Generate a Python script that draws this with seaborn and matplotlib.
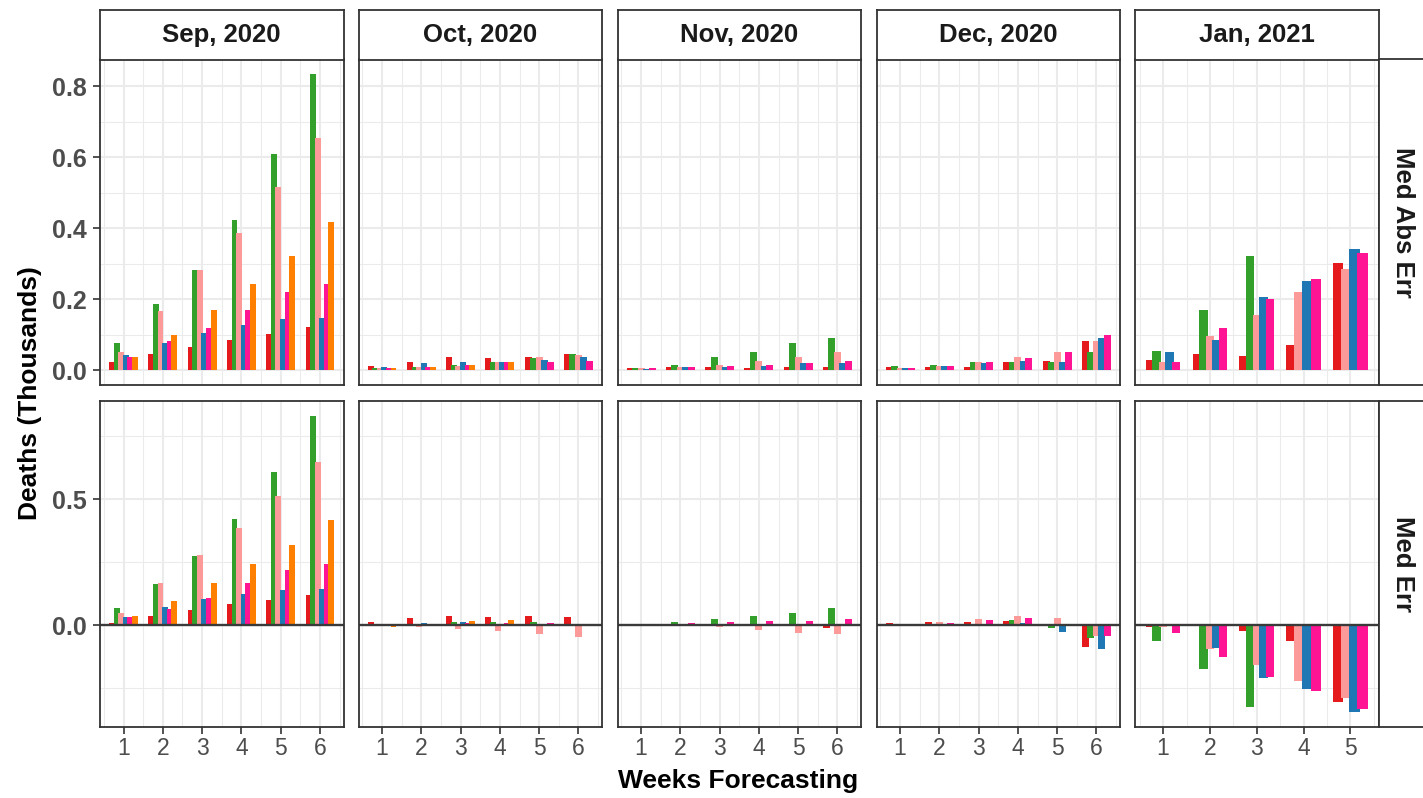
import numpy as np
import pandas as pd
import seaborn as sns
import seaborn.objects as so
import matplotlib.pyplot as plt
from matplotlib.ticker import FixedLocator

months = ["Sep, 2020", "Oct, 2020", "Nov, 2020", "Dec, 2020", "Jan, 2021"]
metrics = ["Med Abs Err", "Med Err"]
models = ["Model 1", "Model 2", "Model 3", "Model 4", "Model 5", "Model 6"]
colors = ["#E41A1C", "#33A02C", "#FB9A99", "#1F78B4", "#FF1493", "#FF7F00"]
n_weeks = [6, 6, 6, 6, 5]

# deaths (thousands), one list per model, None = no forecast for that week
sep_mae = [
    [0.024, 0.047, 0.064, 0.086, 0.103, 0.123],
    [0.078, 0.187, 0.283, 0.424, 0.609, 0.834],
    [0.052, 0.168, 0.283, 0.387, 0.516, 0.654],
    [0.044, 0.078, 0.106, 0.128, 0.145, 0.148],
    [0.038, 0.081, 0.120, 0.171, 0.221, 0.244],
    [0.038, 0.100, 0.171, 0.244, 0.322, 0.418],
]
oct_mae = [
    [0.013, 0.024, 0.036, 0.033, 0.036, 0.047],
    [0.005, 0.010, 0.016, 0.024, 0.033, 0.047],
    [0.005, 0.010, 0.013, 0.022, 0.036, 0.044],
    [0.008, 0.019, 0.024, 0.022, 0.030, 0.036],
    [0.005, 0.010, 0.016, 0.022, 0.022, 0.027],
    [0.005, 0.008, 0.016, 0.022, None, None],
]
nov_mae = [
    [0.005, 0.010, 0.008, 0.005, 0.008, 0.010],
    [0.005, 0.016, 0.036, 0.050, 0.078, 0.092],
    [0.005, 0.010, 0.016, 0.027, 0.036, 0.050],
    [0.002, 0.008, 0.008, 0.013, 0.019, 0.019],
    [0.005, 0.010, 0.013, 0.016, 0.019, 0.027],
    [None] * 6,
]
dec_mae = [
    [0.008, 0.010, 0.010, 0.022, 0.027, 0.083],
    [0.013, 0.016, 0.022, 0.024, 0.022, 0.052],
    [0.005, 0.013, 0.024, 0.036, 0.052, 0.083],
    [0.005, 0.013, 0.019, 0.027, 0.024, 0.092],
    [0.005, 0.013, 0.022, 0.033, 0.050, 0.100],
    [None] * 6,
]
jan_mae = [
    [0.030, 0.047, 0.041, 0.072, 0.303],
    [0.055, 0.171, 0.322, None, None],
    [0.022, 0.095, 0.156, 0.221, 0.286],
    [0.050, 0.086, 0.207, 0.252, 0.342],
    [0.024, 0.120, 0.201, 0.258, 0.331],
    [None] * 5,
]

sep_me = [
    [0.011, 0.038, 0.062, 0.086, 0.101, 0.121],
    [0.070, 0.164, 0.275, 0.421, 0.607, 0.832],
    [0.050, 0.168, 0.279, 0.386, 0.512, 0.650],
    [0.034, 0.074, 0.105, 0.125, 0.141, 0.145],
    [0.034, 0.066, 0.109, 0.168, 0.220, 0.243],
    [0.038, 0.097, 0.168, 0.243, 0.318, 0.417],
]
oct_me = [
    [0.012, 0.028, 0.036, 0.032, 0.036, 0.032],
    [-0.003, 0.004, 0.012, 0.012, 0.012, 0.004],
    [-0.002, -0.006, -0.016, -0.024, -0.036, -0.047],
    [0.007, 0.010, 0.012, 0.006, -0.004, -0.004],
    [-0.003, -0.004, 0.008, 0.008, 0.008, 0.004],
    [-0.006, 0.007, 0.016, 0.020, None, None],
]
nov_me = [
    [-0.003, -0.004, -0.004, -0.004, -0.004, -0.012],
    [0.002, 0.012, 0.024, 0.036, 0.047, 0.067],
    [-0.004, -0.003, -0.008, -0.020, -0.032, -0.036],
    [-0.003, -0.003, -0.004, -0.004, -0.004, -0.004],
    [-0.004, 0.008, 0.012, 0.016, 0.016, 0.024],
    [None] * 6,
]
dec_me = [
    [0.008, 0.012, 0.012, 0.016, -0.004, -0.087],
    [-0.004, -0.004, 0.004, 0.020, -0.012, -0.051],
    [0.004, 0.012, 0.024, 0.036, 0.028, -0.043],
    [-0.004, 0.002, -0.004, 0.008, -0.028, -0.095],
    [0.003, 0.008, 0.020, 0.028, -0.004, -0.043],
    [None] * 6,
]
jan_me = [
    [-0.008, 0.007, -0.021, -0.061, -0.305],
    [-0.061, -0.175, -0.325, None, None],
    [-0.008, -0.096, -0.159, -0.222, -0.290],
    [-0.004, -0.092, -0.211, -0.254, -0.345],
    [-0.029, -0.124, -0.207, -0.262, -0.333],
    [None] * 5,
]

mae_by_month = [sep_mae, oct_mae, nov_mae, dec_mae, jan_mae]
me_by_month = [sep_me, oct_me, nov_me, dec_me, jan_me]

rows = []
for metric, tables in zip(metrics, [mae_by_month, me_by_month]):
    for month, table in zip(months, tables):
        for model, vals in zip(models, table):
            for wk, v in enumerate(vals, start=1):
                if v is not None:
                    rows.append((metric, month, model, wk, v))
df = pd.DataFrame(rows, columns=["metric", "month", "model", "week", "deaths"])
palette = dict(zip(models, colors))

sns.set_theme(style="white")
plt.rcParams["font.family"] = ["Liberation Sans", "DejaVu Sans"]

W, H = 1423, 798
fig = plt.figure(figsize=(W / 100, H / 100), dpi=100)
fig.patch.set_facecolor("white")


def box(x0, y0, x1, y1):
    return [x0 / W, 1 - y1 / H, (x1 - x0) / W, (y1 - y0) / H]


col_x = [100, 358.5, 617.5, 876.5, 1135]
panel_w = 243.5
row_y = [(59.5, 385), (401, 727)]
y_major = [[0, 0.2, 0.4, 0.6, 0.8], [0, 0.5]]
y_minor = [[0.1, 0.3, 0.5, 0.7], [-0.25, 0.25, 0.75]]
dark = "#333333"
grid_c = "#EBEBEB"
theme_rc = {"font.family": ["Liberation Sans", "DejaVu Sans"],
            "axes.facecolor": "white", "axes.grid": False}

for r, metric in enumerate(metrics):
    sub_m = df[df.metric == metric]
    ylo = min(sub_m.deaths.min(), 0)
    yhi = sub_m.deaths.max()
    pad = (yhi - ylo) * 0.05
    for c, month in enumerate(months):
        n = n_weeks[c]
        ax = fig.add_axes(box(col_x[c], row_y[r][0], col_x[c] + panel_w, row_y[r][1]))
        sub = sub_m[sub_m.month == month]
        (
            so.Plot(sub, x="week", y="deaths", color="model")
            .add(so.Bar(width=0.7, alpha=1, edgewidth=0),
                 so.Dodge(empty="fill", gap=1 - 0.9 / 0.7),
                 orient="x", legend=False)
            .scale(color=so.Nominal(palette, order=models))
            .theme(theme_rc)
            .on(ax)
            .plot()
        )
        ax.set_facecolor("white")
        ax.set_xlabel("")
        ax.set_ylabel("")
        ax.set_xlim(0.4, n + 0.6)
        ax.set_ylim(ylo - pad, yhi + pad)
        ax.set_axisbelow(True)
        ax.xaxis.set_major_locator(FixedLocator(list(range(1, n + 1))))
        ax.xaxis.set_minor_locator(FixedLocator(list(np.arange(0.5, n + 1, 1.0))))
        ax.set_yticks(y_major[r], labels=[f"{t:.1f}" for t in y_major[r]])
        ax.yaxis.set_minor_locator(FixedLocator(y_minor[r]))
        ax.set_xticks(list(range(1, n + 1)), labels=[str(i) for i in range(1, n + 1)])
        ax.grid(which="major", color=grid_c, lw=1.5)
        ax.grid(which="minor", color=grid_c, lw=0.75)
        ax.tick_params(which="minor", length=0)
        ax.tick_params(axis="y", which="major", length=5, width=1.2, color=dark,
                       pad=4.5, labelsize=18, labelcolor="#4D4D4D",
                       labelleft=(c == 0), left=(c == 0))
        ax.tick_params(axis="x", which="major", length=5, width=1.2, color=dark,
                       pad=2.5, labelsize=16.5, labelcolor="#4D4D4D",
                       labelbottom=(r == 1), bottom=(r == 1))
        for lab in ax.get_yticklabels():
            lab.set_fontweight("bold")
        for sp in ax.spines.values():
            sp.set_visible(True)
            sp.set_color(dark)
            sp.set_linewidth(1.3)
        if r == 1:
            ax.axhline(0, color="#3A3A3A", lw=1.7, zorder=2.5)

# column strips
for c, month in enumerate(months):
    sax = fig.add_axes(box(col_x[c], 10, col_x[c] + panel_w, 59.5))
    sax.set_xticks([])
    sax.set_yticks([])
    sax.set_facecolor("white")
    for sp in sax.spines.values():
        sp.set_color(dark)
        sp.set_linewidth(1.3)
    sax.text(0.5, 0.5, month, ha="center", va="center", fontsize=18.5,
             fontweight="bold", color="#1A1A1A", transform=sax.transAxes)

# row strips on the right (partly off the canvas)
for r, metric in enumerate(metrics):
    sax = fig.add_axes(box(1379, row_y[r][0], 1428, row_y[r][1]))
    sax.set_xticks([])
    sax.set_yticks([])
    sax.set_facecolor("white")
    for sp in sax.spines.values():
        sp.set_color(dark)
        sp.set_linewidth(1.3)
    sax.text(0.5, 0.5, metric, ha="center", va="center", rotation=-90,
             fontsize=18.5, fontweight="bold", color="#1A1A1A",
             transform=sax.transAxes)

fig.text(30 / W, 1 - 393 / H, "Deaths (Thousands)", rotation=90, ha="center",
         va="center", fontsize=19, fontweight="bold", color="black")
fig.text(738 / W, 1 - 781 / H, "Weeks Forecasting", ha="center", va="center",
         fontsize=19, fontweight="bold", color="black")

fig.savefig("out.png", dpi=100)
